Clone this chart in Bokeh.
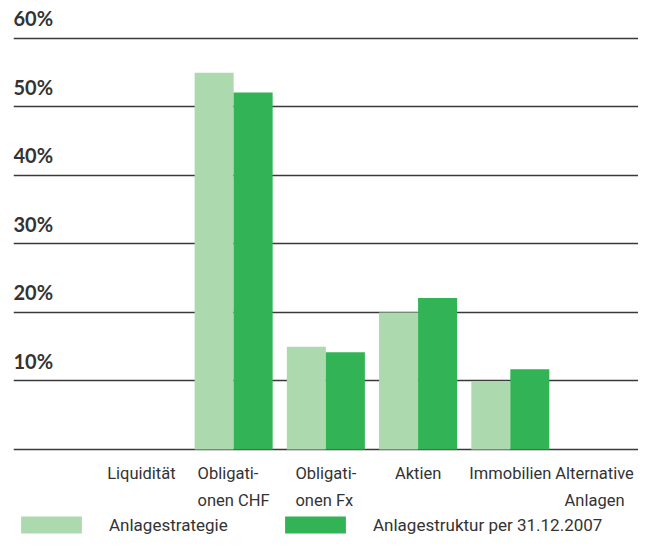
from bokeh.plotting import figure
from bokeh.models import (FixedTicker, Range1d, Label, LabelSet, Legend,
                          LegendItem, Grid, ColumnDataSource)
from bokeh.core.properties import value
from bokeh.embed import file_html
from bokeh.resources import INLINE

# ---- data ----
categories = ["Liquidität", "Obligati-\nonen CHF", "Obligati-\nonen Fx",
              "Aktien", "Immobilien", "Alternative\nAnlagen"]
strategie = [0, 55, 15, 20, 10, 0]          # Anlagestrategie (%)
struktur = [0, 52.1, 14.2, 22.1, 11.7, 0]   # Anlagestruktur per 31.12.2007 (%)
y_ticks = [0, 10, 20, 30, 40, 50, 60]
y_tick_labels = ["", "10%", "20%", "30%", "40%", "50%", "60%"]
series_names = ["Anlagestrategie", "Anlagestruktur per 31.12.2007"]

LIGHT = "#acd9ae"
DARK = "#31b356"
TEXT = "#333333"
FONT = "Roboto"
YFONT = "Lato"

idx = list(range(len(categories)))
bw = 0.423

p = figure(width=638, height=537, output_backend="svg", toolbar_location=None,
           x_range=Range1d(-1.387, 5.39), y_range=Range1d(-12.847, 65.547),
           x_axis_location=None, y_axis_location=None,
           min_border_left=13, min_border_right=0,
           min_border_top=0, min_border_bottom=0)
p.outline_line_color = None
p.background_fill_color = "white"
p.xgrid.visible = False
p.ygrid.visible = False

r1 = p.vbar(x=[i - bw / 2 for i in idx], top=strategie, width=bw,
            fill_color=LIGHT, line_color=None)
r2 = p.vbar(x=[i + bw / 2 for i in idx], top=struktur, width=bw,
            fill_color=DARK, line_color=None)

# horizontal grid lines
grid = Grid(dimension=1, ticker=FixedTicker(ticks=y_ticks),
            grid_line_color="#3a3a3a", grid_line_width=1.6)
p.add_layout(grid)

# y tick labels above grid lines
for t, lab in zip(y_ticks, y_tick_labels):
    if lab:
        p.add_layout(Label(x=0, x_units="screen", y=t, y_offset=8, text=lab,
                           text_font=YFONT, text_font_size="20px",
                           text_font_style="bold", text_color=TEXT,
                           text_baseline="bottom", text_align="left"))

# category labels under the baseline (last one nudged to stay inside canvas)
n_inner = len(categories) - 1
cat_src = ColumnDataSource(dict(x=idx[:n_inner], y=[0] * n_inner,
                                text=categories[:n_inner]))
p.add_layout(LabelSet(x="x", y="y", text="text", source=cat_src,
                      y_offset=-15, text_align="center", text_baseline="top",
                      text_font=value(FONT), text_font_size=value("16.5px"),
                      text_color=TEXT, text_line_height=1.38))
p.add_layout(Label(x=idx[-1], y=0, text=categories[-1], y_offset=-15,
                   x_offset=-8, text_align="center", text_baseline="top",
                   text_font=FONT, text_font_size="16.5px",
                   text_color=TEXT, text_line_height=1.38))

# legends (two, positioned separately)
for r, name, xloc in [(r1, series_names[0], 0), (r2, series_names[1], 264)]:
    lg = Legend(items=[LegendItem(label=name, renderers=[r])],
                location=(xloc, 2), orientation="horizontal",
                glyph_width=76, glyph_height=21, label_standoff=20,
                padding=0, margin=0, border_line_color=None,
                background_fill_alpha=0, label_text_font=FONT,
                label_text_font_size="17px", label_text_color=TEXT)
    p.add_layout(lg, "center")

open("out.html", "w").write(file_html(p, INLINE))
